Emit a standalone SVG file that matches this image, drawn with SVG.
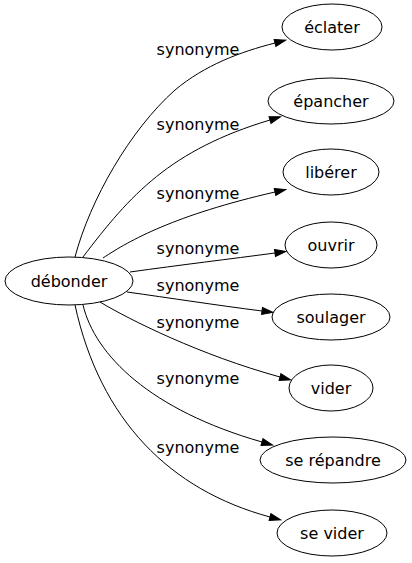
<svg xmlns="http://www.w3.org/2000/svg" width="412" height="563" viewBox="0 0 412 563">
<style>
.n ellipse{fill:none;stroke:#000;stroke-width:1}
text{font-family:"DejaVu Sans","Liberation Sans",sans-serif;font-size:16px;fill:#000}
.n text{text-anchor:middle}
.e path{fill:none;stroke:#000;stroke-width:1;marker-end:url(#ah)}
.e text{text-anchor:middle}
</style>
<defs>
<marker id="ah" markerUnits="userSpaceOnUse" markerWidth="11" markerHeight="8" refX="0" refY="3.5" orient="auto" overflow="visible">
<path d="M0,0 L11,3.5 L0,7 z" fill="#000" stroke="#000" stroke-width="1"/>
</marker>
</defs>
<rect width="412" height="563" fill="#fff"/>
<g id="edges" class="e">
<path d="M75,257 C90,200 130,130 175,90 C205,65 240,52 275,43"/>
<text x="198" y="55">synonyme</text>
<path d="M83,257 C130,195 170,150 270,120"/>
<text x="198" y="130">synonyme</text>
<path d="M103,258 C130,240 175,215 275,192"/>
<text x="198" y="199">synonyme</text>
<path d="M130,272 C180,265 230,259 275,253"/>
<text x="198" y="254">synonyme</text>
<path d="M127,292 C170,298 215,305 262,311"/>
<text x="198" y="291">synonyme</text>
<path d="M100,302 C130,320 200,355 280,377"/>
<text x="198" y="328">synonyme</text>
<path d="M83,305 C95,355 150,410 262,442"/>
<text x="198" y="384">synonyme</text>
<path d="M75,305 C100,420 170,490 270,517"/>
<text x="198" y="453">synonyme</text>
</g>
<g id="debonder" class="n"><ellipse cx="69" cy="281" rx="64" ry="24"/><text x="69" y="287">débonder</text></g>
<g id="eclater" class="n"><ellipse cx="332" cy="27" rx="50" ry="23"/><text x="332" y="33">éclater</text></g>
<g id="epancher" class="n"><ellipse cx="331" cy="101" rx="63" ry="23"/><text x="331" y="107">épancher</text></g>
<g id="liberer" class="n"><ellipse cx="331" cy="172" rx="48" ry="23"/><text x="331" y="178">libérer</text></g>
<g id="ouvrir" class="n"><ellipse cx="331" cy="245" rx="46" ry="23"/><text x="331" y="251">ouvrir</text></g>
<g id="soulager" class="n"><ellipse cx="331" cy="317" rx="59" ry="23"/><text x="331" y="323">soulager</text></g>
<g id="vider" class="n"><ellipse cx="331" cy="388" rx="42" ry="23"/><text x="331" y="394">vider</text></g>
<g id="se-repandre" class="n"><ellipse cx="333" cy="460" rx="73" ry="23"/><text x="333" y="466">se répandre</text></g>
<g id="se-vider" class="n"><ellipse cx="332" cy="533" rx="55" ry="23"/><text x="332" y="539">se vider</text></g>
</svg>
